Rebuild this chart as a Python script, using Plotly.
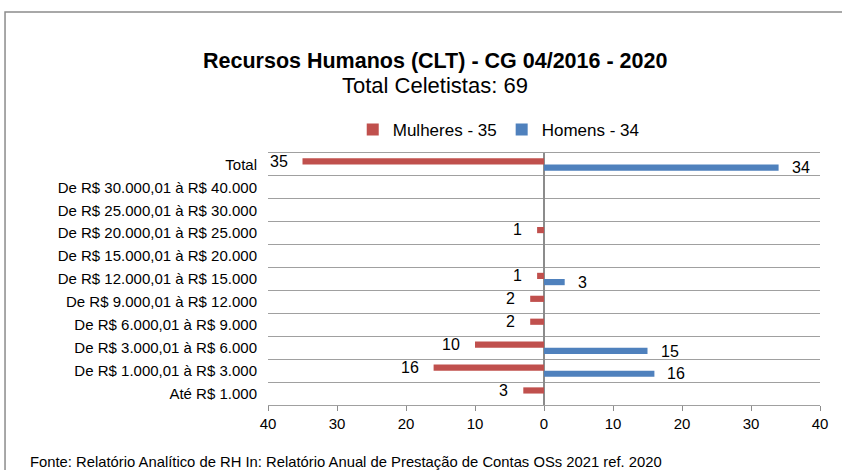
import plotly.graph_objects as go

categories = [
    "Total",
    "De R$ 30.000,01 à R$ 40.000",
    "De R$ 25.000,01 à R$ 30.000",
    "De R$ 20.000,01 à R$ 25.000",
    "De R$ 15.000,01 à R$ 20.000",
    "De R$ 12.000,01 à R$ 15.000",
    "De R$ 9.000,01 à R$ 12.000",
    "De R$ 6.000,01 à R$ 9.000",
    "De R$ 3.000,01 à R$ 6.000",
    "De R$ 1.000,01 à R$ 3.000",
    "Até R$ 1.000",
]
mulheres = [35, 0, 0, 1, 0, 1, 2, 2, 10, 16, 3]
homens = [34, 0, 0, 0, 0, 3, 0, 0, 15, 16, 0]
tick_vals = [-40, -30, -20, -10, 0, 10, 20, 30, 40]
tick_text = ["40", "30", "20", "10", "0", "10", "20", "30", "40"]

RED = "#C0504D"
BLUE = "#4F81BD"
FONT = "Liberation Sans, Arial, sans-serif"

fig = go.Figure()
fig.add_trace(go.Bar(
    y=categories, x=[-v for v in mulheres], orientation="h",
    name="Mulheres - 35", marker=dict(color=RED, line=dict(width=0)),
))
fig.add_trace(go.Bar(
    y=categories, x=homens, orientation="h",
    name="Homens - 34", marker=dict(color=BLUE, line=dict(width=0)),
))

annotations = []
for c, v in zip(categories, mulheres):
    if v:
        annotations.append(dict(x=-v, y=c, xref="x", yref="y", text=str(v),
                                showarrow=False, xanchor="right", xshift=-13, yshift=3.3,
                                font=dict(size=16, color="black", family=FONT)))
for c, v in zip(categories, homens):
    if v:
        annotations.append(dict(x=v, y=c, xref="x", yref="y", text=str(v),
                                showarrow=False, xanchor="left", xshift=11, yshift=-3.3,
                                font=dict(size=16, color="black", family=FONT)))

annotations += [
    dict(x=0.303, y=1.366, xref="paper", yref="paper",
         text="<b>Recursos Humanos (CLT) - CG 04/2016 - 2020</b>", showarrow=False,
         xanchor="center", yanchor="middle", font=dict(size=21.5, color="black", family=FONT)),
    dict(x=0.303, y=1.266, xref="paper", yref="paper",
         text="Total Celetistas: 69", showarrow=False,
         xanchor="center", yanchor="middle", font=dict(size=22, color="black", family=FONT)),
    dict(x=-0.435, y=-0.226, xref="paper", yref="paper",
         text="Fonte: Relatório Analítico de RH In: Relatório Anual de Prestação de Contas OSs 2021 ref. 2020",
         showarrow=False, xanchor="left", yanchor="middle",
         font=dict(size=14.8, color="black", family=FONT)),
]

fig.update_layout(
    width=842, height=470,
    margin=dict(l=268, r=22, t=153, b=65),
    paper_bgcolor="white", plot_bgcolor="white",
    barmode="group", bargap=0.46, bargroupgap=0,
    font=dict(family=FONT, size=15, color="black"),
    showlegend=True,
    legend=dict(orientation="h", x=0.418, y=1.091, xanchor="center", yanchor="middle",
                font=dict(size=17, color="black"), traceorder="normal",
                itemclick=False, bgcolor="rgba(0,0,0,0)"),
    annotations=annotations,
    shapes=[dict(type="rect", xref="paper", yref="paper",
                 x0=-0.4764, x1=1.2, y0=-0.5, y1=1.5595,
                 line=dict(color="#8c8c8c", width=1.5), layer="below")],
    xaxis=dict(range=[-40, 40], tickvals=tick_vals, ticktext=tick_text,
               showgrid=False, zeroline=True, zerolinecolor="#8c8c8c", zerolinewidth=1.5,
               showline=True, mirror=True, linecolor="#a0a0a0", linewidth=1.2,
               ticks="outside", ticklen=5, tickcolor="#8c8c8c",
               tickfont=dict(size=15, color="black"), fixedrange=True),
    yaxis=dict(type="category", range=[10.5, -0.5], tickson="boundaries",
               showgrid=True, gridcolor="#a0a0a0", gridwidth=1.2,
               ticks="", showline=False, ticklabelstandoff=10,
               tickfont=dict(size=15, color="black"), fixedrange=True),
)

fig.write_html("out.html", config={"displayModeBar": False},
               post_script="document.body.style.margin='0';document.body.style.overflow='hidden';")
